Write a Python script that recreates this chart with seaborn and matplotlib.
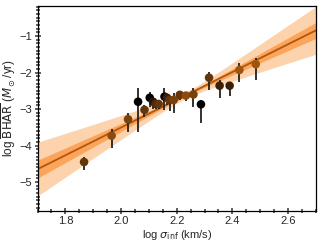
import numpy as np
import pandas as pd
import matplotlib
matplotlib.use("Agg")
import matplotlib.pyplot as plt
from matplotlib.colors import LinearSegmentedColormap
from matplotlib.ticker import MultipleLocator
import seaborn as sns

# ---- data ----
log_sigma = [1.867, 1.966, 2.025, 2.061, 2.084, 2.103, 2.115, 2.124, 2.135, 2.156, 2.165,
             2.174, 2.189, 2.211, 2.233, 2.260, 2.287, 2.316, 2.354, 2.390, 2.425, 2.484]
log_bhar = [-4.45, -3.73, -3.28, -2.80, -3.02, -2.69, -2.80, -2.86, -2.86, -2.66, -2.69,
            -2.75, -2.75, -2.61, -2.63, -2.60, -2.87, -2.14, -2.36, -2.36, -1.93, -1.77]
err_up = [0.15, 0.18, 0.17, 0.37, 0.12, 0.17, 0.10, 0.10, 0.10, 0.23, 0.10,
          0.10, 0.18, 0.08, 0.08, 0.17, 0.12, 0.16, 0.16, 0.11, 0.18, 0.16]
err_low = [0.21, 0.34, 0.34, 0.82, 0.20, 0.24, 0.20, 0.15, 0.15, 0.36, 0.20,
           0.30, 0.36, 0.15, 0.15, 0.33, 0.52, 0.34, 0.34, 0.28, 0.32, 0.43]
shade = [0.5, 0.7, 0.6, 0.0, 0.5, 0.0, 0.2, 0.4, 0.5, 0.0, 0.3,
         0.5, 0.6, 0.5, 0.7, 0.6, 0.0, 0.5, 0.3, 0.3, 0.8, 0.8]

# fit parameters (pivoted linear fit)
fit_pivot = 2.23
fit_intercept = -2.631
fit_slope = 3.8
fit_intercept_err = 0.03
fit_slope_err = 0.46
band_levels = [3, 1]

df = pd.DataFrame(dict(x=log_sigma, y=log_bhar, c=shade))

sns.set_style("ticks")
plt.rcParams['font.family'] = ['Liberation Sans', 'DejaVu Sans']
plt.rcParams['mathtext.fontset'] = 'dejavusans'

fig = plt.figure(figsize=(3.24, 2.44), dpi=100)
ax = fig.add_axes([0.116, 0.137, 0.859, 0.838])

xs = np.linspace(1.7, 2.7, 200)
yfit = fit_intercept + fit_slope * (xs - fit_pivot)
sig = np.sqrt(fit_intercept_err**2 + (fit_slope_err * (xs - fit_pivot))**2)
band_colors = ['#fdd3ad', '#fca45a']
for lev, col in zip(band_levels, band_colors):
    ax.fill_between(xs, yfit - lev * sig, yfit + lev * sig, color=col, lw=0, zorder=1)
sns.lineplot(x=xs, y=yfit, color='#b0560f', lw=1.3, ax=ax, zorder=2)

ax.errorbar(log_sigma, log_bhar, yerr=[err_low, err_up], fmt='none',
            ecolor='#222222', elinewidth=1.3, capsize=0, zorder=3)
cmap = LinearSegmentedColormap.from_list('bk_or', ['#000000', '#c86a12'])
sns.scatterplot(data=df, x='x', y='y', hue='c', palette=cmap, hue_norm=(0, 1),
                legend=False, s=38, edgecolor='none', ax=ax, zorder=4)

ax.set_xlim(1.7, 2.7)
ax.set_ylim(-5.78, -0.18)
ax.xaxis.set_major_locator(MultipleLocator(0.2))
ax.xaxis.set_minor_locator(MultipleLocator(0.05))
ax.yaxis.set_major_locator(MultipleLocator(1))
ax.yaxis.set_minor_locator(MultipleLocator(0.1))
ax.tick_params(which='both', direction='inout', color='#444444', labelsize=8, pad=2)
ax.tick_params(which='major', length=4, width=1.2)
ax.tick_params(which='minor', length=3, width=1.2)
for s in ax.spines.values():
    s.set_linewidth(0.9)
    s.set_color('black')

ax.set_xlabel(r'log $\sigma_{\rm inf}$ (km/s)', fontsize=8, labelpad=1)
ax.set_ylabel(r'log $\overline{\rm BHAR}$ ($M_\odot$/yr)', fontsize=8.5, labelpad=1)

fig.savefig('out.png', dpi=100)
